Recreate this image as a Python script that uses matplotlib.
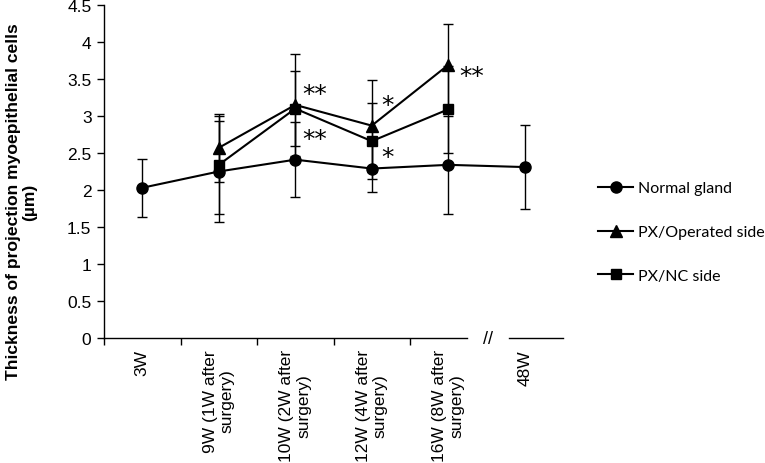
import matplotlib
matplotlib.use("Agg")
import matplotlib.pyplot as plt
import numpy as np

# ---- data ----
categories = ["3W", "9W (1W after\nsurgery)", "10W (2W after\nsurgery)",
              "12W (4W after\nsurgery)", "16W (8W after\nsurgery)", "48W"]
cat_pos = [0.5, 1.5, 2.5, 3.5, 4.5, 5.5]

normal_vals = [2.03, 2.25, 2.41, 2.29, 2.34, 2.31]
normal_err = [0.39, 0.68, 0.51, 0.32, 0.66, 0.57]

operated_idx = [1, 2, 3, 4]
operated_vals = [2.57, 3.15, 2.87, 3.69]
operated_err = [0.46, 0.69, 0.62, 0.56]

nc_idx = [1, 2, 3, 4]
nc_vals = [2.34, 3.10, 2.66, 3.09]
nc_err = [0.66, 0.51, 0.51, 0.59]

# significance marks: (x position, y value, text)
sig_x = [2.75, 2.75, 3.71, 3.71, 4.81]
sig_y = [3.33, 2.72, 3.18, 2.48, 3.58]
sig_txt = ["**", "**", "*", "*", "**"]

y_ticks = [0, 0.5, 1, 1.5, 2, 2.5, 3, 3.5, 4, 4.5]
y_tick_labels = ["0", "0.5", "1", "1.5", "2", "2.5", "3", "3.5", "4", "4.5"]

# ---- figure ----
fig = plt.figure(figsize=(7.65, 4.64), dpi=100)
ax = fig.add_axes([104 / 765, 1 - 339 / 464, (563 - 104) / 765, (339 - 6) / 464])

tick_font = "Liberation Sans"
lw = 1.5
ms = 7.5
eb_kw = dict(ecolor="black", elinewidth=1.0, capsize=3.5, capthick=1.0)

xn = [cat_pos[i] for i in range(len(normal_vals))]
xo = [cat_pos[i] for i in operated_idx]
xc = [cat_pos[i] for i in nc_idx]

ax.errorbar(xn, normal_vals, yerr=normal_err, fmt="none", zorder=2, **eb_kw)
ax.errorbar(xo, operated_vals, yerr=operated_err, fmt="none", zorder=2, **eb_kw)
ax.errorbar(xc, nc_vals, yerr=nc_err, fmt="none", zorder=2, **eb_kw)

ax.plot(xn, normal_vals, "-o", color="black", lw=lw, ms=ms + 0.5, zorder=3,
        label="Normal gland")
ax.plot(xo, operated_vals, "-^", color="black", lw=lw, ms=ms + 0.5, zorder=3,
        label="PX/Operated side")
ax.plot(xc, nc_vals, "-s", color="black", lw=lw, ms=ms - 0.5, zorder=3,
        label="PX/NC side")

for x, y, t in zip(sig_x, sig_y, sig_txt):
    ax.text(x, y, t, ha="center", va="center_baseline", fontsize=18,
            family="DejaVu Sans", color="black")

ax.set_xlim(0, 6)
ax.set_ylim(0, 4.5)
ax.set_yticks(y_ticks)
ax.set_yticklabels(y_tick_labels, fontsize=12.5, family=tick_font)

ax.set_xticks([0, 1, 2, 3, 4])
ax.set_xticklabels([])
ax.set_xticks(cat_pos, minor=True)
ax.set_xticklabels(categories, minor=True, rotation=90, fontsize=12.5,
                   family=tick_font, ha="center", va="top",
                   multialignment="center", linespacing=1.2)
ax.tick_params(axis="x", which="minor", length=0, pad=8)
ax.tick_params(axis="x", which="major", direction="out", length=5, width=1)
ax.tick_params(axis="y", direction="out", length=5, width=1, pad=4)

for s in ["top", "right"]:
    ax.spines[s].set_visible(False)
ax.spines["left"].set_linewidth(1)
ax.spines["bottom"].set_linewidth(1)
ax.spines["bottom"].set_bounds(0, 4.75)
# continuation of axis after the break
ax.plot([5.3, 6.0], [0, 0], color="black", lw=1, clip_on=False, zorder=4)
ax.text(5.02, 0, "//", ha="center", va="center", fontsize=13,
        family=tick_font, clip_on=False)

fig.text(21.5 / 765, 1 - 202 / 464,
         "Thickness of projection myoepithelial cells\n(µm)",
         rotation=90, ha="center", va="center", fontsize=12.6,
         fontweight="bold", family=tick_font, multialignment="center",
         linespacing=1.15)

leg = ax.legend(loc="center left", bbox_to_anchor=(598 / 765, 1 - 233 / 464),
                bbox_transform=fig.transFigure, frameon=False,
                handlelength=2.2, handletextpad=0.3, labelspacing=1.85,
                prop={"family": "Lato", "size": 11.5}, borderaxespad=0,
                borderpad=0)

fig.savefig("out.png", dpi=100)
